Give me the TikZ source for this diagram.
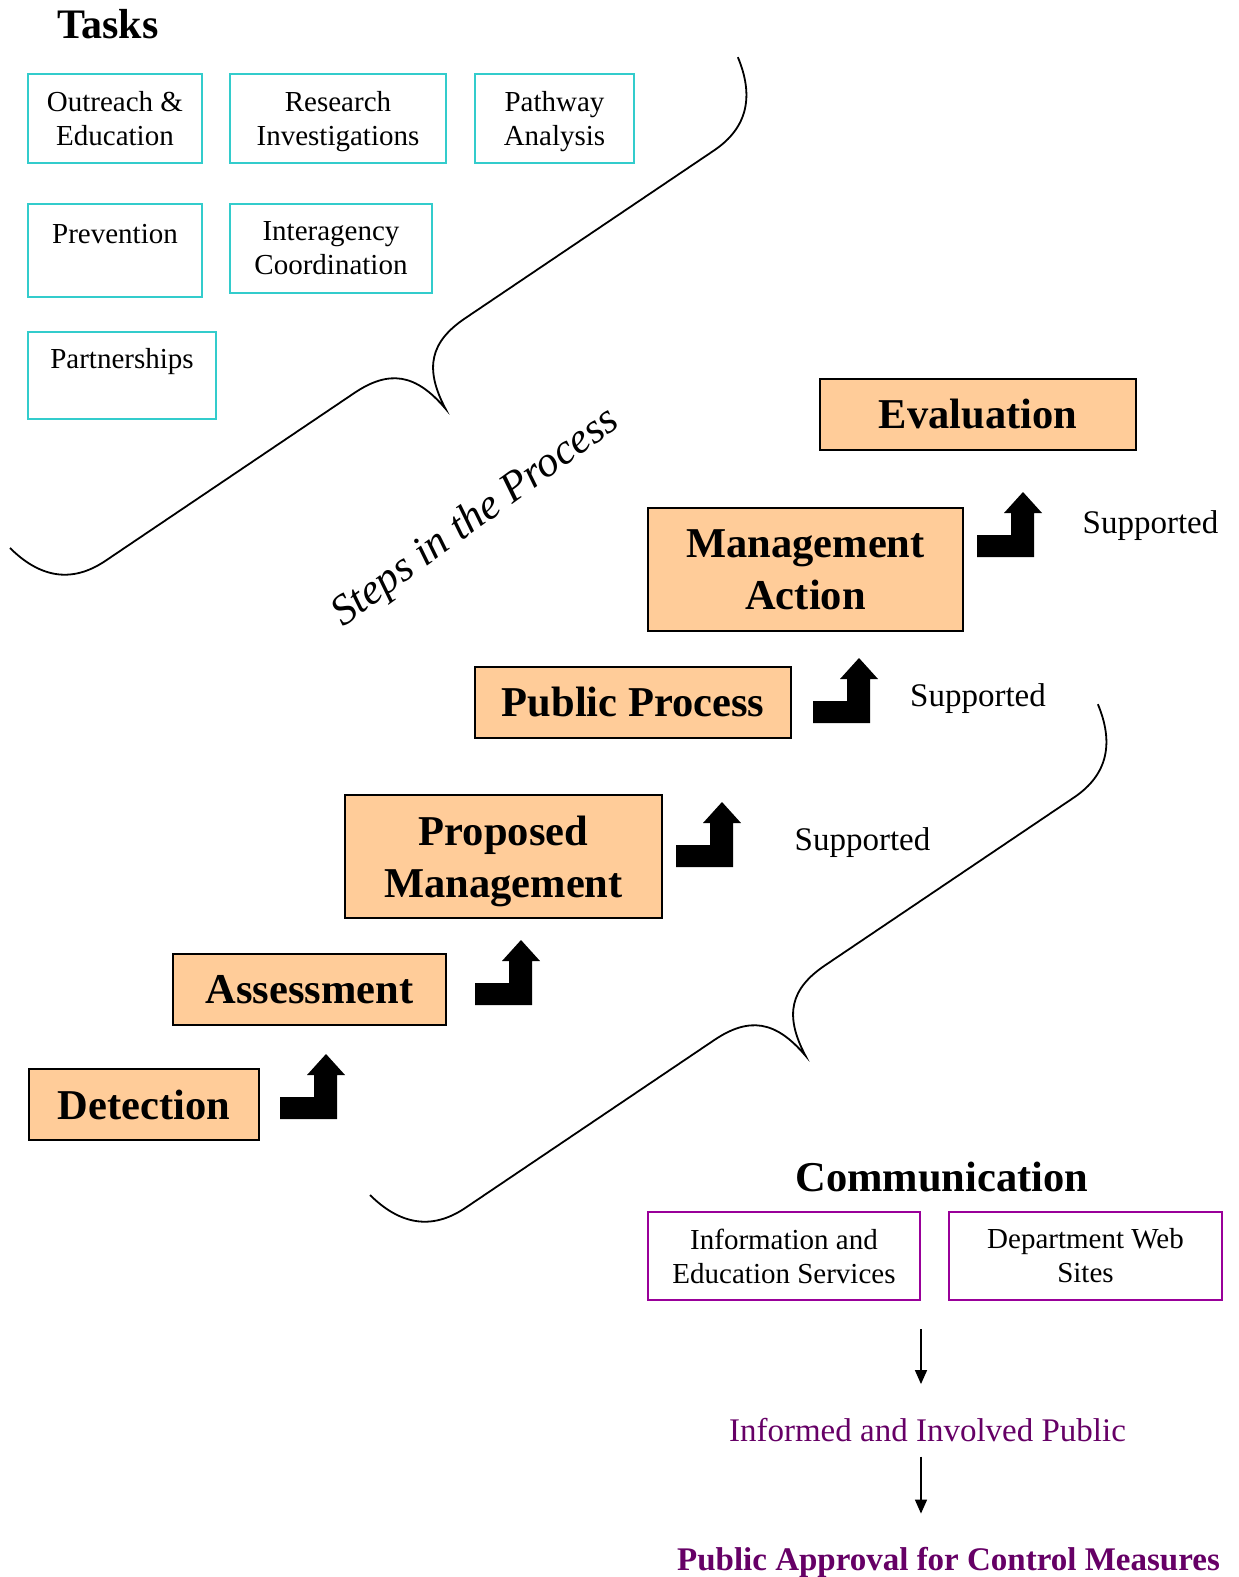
\documentclass[tikz,border=0pt]{standalone}
\usepackage{fontspec}
\setmainfont{Liberation Serif}
\usetikzlibrary{arrows.meta}
\definecolor{orangefill}{HTML}{FFCC99}
\definecolor{turq}{HTML}{33CCCC}
\definecolor{purpleline}{HTML}{990099}
\definecolor{purpletext}{HTML}{660066}
\newcommand\mybracepath{(0,0) .. controls (8,40) and (30,64) .. (72,64) -- (372,64) .. controls (414,64) and (434,82) .. (439,128) .. controls (444,82) and (464,64) .. (506,64) -- (806,64) .. controls (848,64) and (870,40) .. (878,0)}
\begin{document}
\begin{tikzpicture}[x=1pt,y=-1pt,
  taskbox/.style={draw=turq, line width=2pt, align=center, inner sep=0pt, font=\fontsize{29}{34}\selectfont},
  stepbox/.style={draw=black, fill=orangefill, line width=1.8pt, align=center, inner sep=0pt, font={\fontsize{42.5}{52}\selectfont\bfseries}, minimum height=71pt},
  commbox/.style={draw=purpleline, line width=2pt, align=center, inner sep=0pt, font=\fontsize{29}{34}\selectfont, minimum width=272pt, minimum height=88pt},
  support/.style={anchor=base, inner sep=0pt, font=\fontsize{33}{40}\selectfont},
  bracestyle/.style={draw=black, line width=1.8pt},
  conn/.style={line width=1.5pt, -{Triangle[width=12pt,length=14pt]}},
  bentarrow/.pic={\fill[black] (0,0) -- (57,0) -- (57,-44) -- (65,-44) -- (46,-65) -- (27,-44) -- (34,-44) -- (34,-22) -- (0,-22) -- cycle;}
]
\useasboundingbox (0,0) rectangle (1239,1577);

% Tasks
\node[anchor=base, inner sep=0pt, font={\fontsize{42}{50}\selectfont\bfseries}] (tasks) at (108,38) {Tasks};
\node[taskbox, minimum width=174pt, minimum height=89pt] (outreach) at (115,118.5) {Outreach \&\\Education};
\node[taskbox, minimum width=216pt, minimum height=89pt] (research) at (338,118.5) {Research\\\smash{Investigations}};
\node[taskbox, minimum width=159pt, minimum height=89pt] (pathway) at (554.5,118.5) {Pathway\\\smash{Analysis}};
\node[taskbox, minimum width=174pt, minimum height=93pt] (prevention) at (115,250.5) {Prevention\\\mbox{}};
\node[taskbox, minimum width=202pt, minimum height=89pt] (interagency) at (331,248.5) {Interagency\\Coordination};
\node[taskbox, minimum width=188pt, minimum height=87pt] (partnerships) at (122,375.5) {Partnerships\\\mbox{}};

% Braces
\begin{scope}[shift={(10,548)}, x={(0.829pt,0.559pt)}, y={(0.559pt,-0.829pt)}]
  \draw[bracestyle] \mybracepath;
\end{scope}
\begin{scope}[shift={(370,1195)}, x={(0.829pt,0.559pt)}, y={(0.559pt,-0.829pt)}]
  \draw[bracestyle] \mybracepath;
\end{scope}

\node[inner sep=0pt, rotate=36, font={\fontsize{43}{50}\selectfont\itshape}] (steps) at (476,518) {Steps in the Process};

% Steps
\node[stepbox, minimum width=316pt] (evaluation) at (978,414.5) {Evaluation};
\node[stepbox, minimum width=315pt, minimum height=123pt] (mgmtaction) at (805.5,569.5) {Management\\Action};
\node[stepbox, minimum width=316pt] (public) at (633,702.5) {Public Process};
\node[stepbox, minimum width=317pt, minimum height=123pt] (proposed) at (503.5,856.5) {Proposed\\\smash{Management}};
\node[stepbox, minimum width=273pt] (assessment) at (309.5,989.5) {Assessment};
\node[stepbox, minimum width=230pt] (detection) at (144,1104.5) {Detection};

% Bent arrows
\pic at (280,1119) {bentarrow};
\pic at (475,1005) {bentarrow};
\pic at (676,867) {bentarrow};
\pic at (813,723) {bentarrow};
\pic at (977,557) {bentarrow};

\node[support] (sup1) at (1150.5,533) {Supported};
\node[support] (sup2) at (978,706) {Supported};
\node[support] (sup3) at (862.5,850) {Supported};

% Communication
\node[anchor=base, inner sep=0pt, font={\fontsize{42.5}{50}\selectfont\bfseries}] (communication) at (942,1191) {Communication};
\node[commbox] (info) at (784,1256) {Information and\\Education Services};
\node[commbox, minimum width=273pt] (web) at (1085.5,1256) {Department Web\\Sites};

\node[anchor=base, inner sep=0pt, text=purpletext, font=\fontsize{33}{40}\selectfont] (informed) at (927.5,1441) {Informed and Involved Public};
\node[anchor=base, inner sep=0pt, text=purpletext, font={\fontsize{33}{40}\selectfont\bfseries}] (approval) at (948.5,1570) {Public Approval for Control Measures};

\draw[conn, shorten <=28pt, shorten >=33.5pt] (info.south east) -- (info.south east |- informed.north);
\draw[conn, shorten <=15pt, shorten >=33pt] (informed.south -| info.south east) -- (approval.north -| info.south east);
\end{tikzpicture}
\end{document}
